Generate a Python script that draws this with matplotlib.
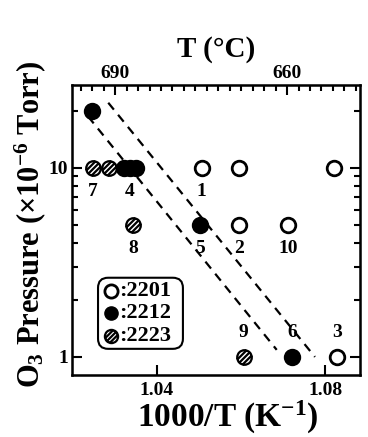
import numpy as np
import matplotlib
matplotlib.use("Agg")
import matplotlib.pyplot as plt
from matplotlib.ticker import FixedLocator, NullFormatter
from matplotlib.patches import FancyBboxPatch
from matplotlib.path import Path

plt.rcParams['font.family'] = ['Liberation Serif', 'DejaVu Serif']
plt.rcParams['font.weight'] = 'bold'
plt.rcParams['mathtext.fontset'] = 'custom'
plt.rcParams['mathtext.rm'] = 'Liberation Serif:bold'
plt.rcParams['mathtext.bf'] = 'Liberation Serif:bold'
plt.rcParams['mathtext.it'] = 'Liberation Serif:bold'
plt.rcParams['mathtext.default'] = 'bf'

# ---- data: 1000/T (K^-1) vs O3 pressure (x1e-6 Torr) ----
x_2201 = [1.0506, 1.0596, 1.0822, 1.0596, 1.0713, 1.0828]
y_2201 = [10, 10, 10, 5, 5, 1]
x_2212 = [1.0245, 1.0321, 1.0336, 1.0350, 1.0502, 1.0721]
y_2212 = [20, 10, 10, 10, 5, 1]
x_2223 = [1.0247, 1.0286, 1.0344, 1.0606]
y_2223 = [10, 10, 5, 1]

# sample numbers next to points
lab_text = ['1', '2', '3', '4', '5', '6', '7', '8', '9', '10']
lab_x = [1.0506, 1.0596, 1.0828, 1.0336, 1.0502, 1.0721, 1.0247, 1.0344, 1.0606, 1.0713]
lab_y = [10, 5, 1, 10, 5, 1, 10, 5, 1, 5]
lab_above = [False, False, True, False, False, True, False, False, True, False]

# dashed boundary lines
line1_x = [1.0236, 1.0685]
line1_y = [18.7, 1.09]
line2_x = [1.0284, 1.0776]
line2_y = [22.1, 1.0]


def hatched_circle(offsets=(-0.5, 0.0, 0.5)):
    """Circle marker with diagonal stripes inside."""
    circ = Path.unit_circle()
    verts = list(circ.vertices)
    codes = list(circ.codes)
    t = np.array([1, 1]) / np.sqrt(2)
    n = np.array([-1, 1]) / np.sqrt(2)
    for d in offsets:
        h = np.sqrt(1 - d ** 2)
        verts += [d * n - h * t, d * n + h * t]
        codes += [Path.MOVETO, Path.LINETO]
    return Path(verts, codes)


HATCH = hatched_circle()

fig = plt.figure(figsize=(3.68, 4.37), dpi=100)
ax = fig.add_axes([0.196, 0.142, 0.782, 0.664])

ms = 10.5
ax.plot(x_2201, y_2201, 'o', ms=ms, mfc='white', mec='black', mew=2, zorder=3)
ax.plot(x_2212, y_2212, 'o', ms=ms + 0.5, mfc='black', mec='black', mew=1.5, zorder=3)
ax.plot(x_2223, y_2223, ls='none', marker=HATCH, ms=ms, mfc='white', mec='black',
        mew=1.6, zorder=3)

ax.plot(line1_x, line1_y, '--', color='black', lw=1.6, dashes=(4, 3))
ax.plot(line2_x, line2_y, '--', color='black', lw=1.6, dashes=(4, 3))

for t, xx, yy, up in zip(lab_text, lab_x, lab_y, lab_above):
    f = 1.34 if up else 0.75
    ax.text(xx, yy * f, t, ha='center', va='center', fontsize=14, fontweight='bold')

ax.set_yscale('log')
ax.set_xlim(1.0198, 1.0883)
ax.set_ylim(0.803, 27.5)
ax.set_xticks([1.04, 1.08])
ax.set_xticklabels(['1.04', '1.08'])
ax.set_yticks([1, 10])
ax.set_yticklabels(['1', '10'])
ax.yaxis.set_minor_locator(FixedLocator(list(range(2, 10)) + [20]))
ax.yaxis.set_minor_formatter(NullFormatter())
ax.xaxis.set_minor_locator(FixedLocator([]))
ax.tick_params(which='both', direction='in', right=True, width=1.5, labelsize=14)
ax.tick_params(which='major', length=7)
ax.tick_params(which='minor', length=4)
ax.tick_params(axis='x', which='both', top=False, pad=5)
ax.tick_params(axis='y', pad=3)
for s in ax.spines.values():
    s.set_linewidth(1.8)

ax.set_xlabel('1000/T (K$^{-1}$)', fontsize=24, fontweight='bold', labelpad=0)
ax.xaxis.label.set_x(0.54)
ax.set_ylabel('O$_3$ Pressure ($\\times$10$^{-6}$ Torr)', fontsize=22,
              fontweight='bold', labelpad=0)
ax.yaxis.label.set_y(0.52)

# top axis in degrees C
ax2 = ax.twiny()
ax2.set_xlim(697.5, 647.3)
ax2.set_xticks([690, 660])
ax2.set_xticklabels(['690', '660'])
ax2.xaxis.set_minor_locator(FixedLocator(np.arange(648, 698, 2)))
ax2.tick_params(which='both', direction='in', width=1.5, labelsize=14, pad=2)
ax2.tick_params(which='major', length=7)
ax2.tick_params(which='minor', length=4)
ax2.set_xlabel('T (°C)', fontsize=21, fontweight='bold', labelpad=6)

# legend box
box = FancyBboxPatch((0.09, 0.09), 0.295, 0.245, transform=ax.transAxes,
                     boxstyle='round,pad=0,rounding_size=0.035',
                     fc='white', ec='black', lw=1.5, zorder=4)
ax.add_patch(box)
leg_y = [0.29, 0.212, 0.133]
leg_lab = [':2201', ':2212', ':2223']
lms = 9.5
ax.plot([0.135], [leg_y[0]], 'o', ms=lms, mfc='white', mec='black', mew=2,
        transform=ax.transAxes, zorder=5)
ax.plot([0.135], [leg_y[1]], 'o', ms=lms, mfc='black', mec='black',
        transform=ax.transAxes, zorder=5)
ax.plot([0.135], [leg_y[2]], ls='none', marker=HATCH, ms=lms, mfc='white',
        mec='black', mew=1.6, transform=ax.transAxes, zorder=5)
for yy, t in zip(leg_y, leg_lab):
    ax.text(0.165, yy, t, transform=ax.transAxes, ha='left', va='center',
            fontsize=16, fontweight='bold', zorder=5)

fig.savefig('out.png', dpi=100)
